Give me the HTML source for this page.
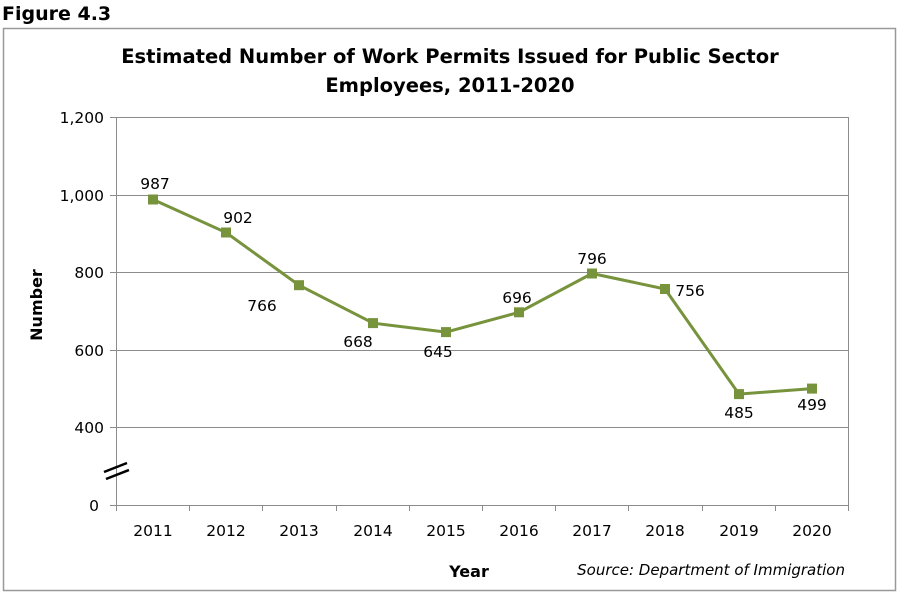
<!DOCTYPE html>
<html><head><meta charset="utf-8"><style>
html,body{margin:0;padding:0;background:#fff;width:900px;height:594px;overflow:hidden}
text{font-family:"DejaVu Sans","Liberation Sans",sans-serif}
</style></head><body>
<svg width="900" height="594" xmlns="http://www.w3.org/2000/svg">
<text x="2" y="20" font-size="19" font-weight="bold" fill="#000">Figure 4.3</text>
<rect x="3.5" y="28.5" width="892" height="562" fill="none" stroke="#999" stroke-width="1.5"/>
<text x="450" y="63" font-size="19.5" font-weight="bold" text-anchor="middle">Estimated Number of  Work Permits Issued for Public Sector</text>
<text x="450" y="92" font-size="19.5" font-weight="bold" text-anchor="middle">Employees, 2011-2020</text>
<g stroke="#8c8c8c" stroke-width="1">
<line x1="110" y1="117.5" x2="848" y2="117.5"/>
<line x1="110" y1="195.5" x2="848" y2="195.5"/>
<line x1="110" y1="272.5" x2="848" y2="272.5"/>
<line x1="110" y1="350.5" x2="848" y2="350.5"/>
<line x1="110" y1="427.5" x2="848" y2="427.5"/>
<line x1="110" y1="505.5" x2="848" y2="505.5"/>
<line x1="116.5" y1="117" x2="116.5" y2="511"/>
<line x1="848.5" y1="117" x2="848.5" y2="511"/>
<line x1="189.5" y1="505" x2="189.5" y2="511"/><line x1="262.5" y1="505" x2="262.5" y2="511"/>
<line x1="336.5" y1="505" x2="336.5" y2="511"/><line x1="409.5" y1="505" x2="409.5" y2="511"/>
<line x1="482.5" y1="505" x2="482.5" y2="511"/><line x1="555.5" y1="505" x2="555.5" y2="511"/>
<line x1="628.5" y1="505" x2="628.5" y2="511"/><line x1="702.5" y1="505" x2="702.5" y2="511"/>
<line x1="775.5" y1="505" x2="775.5" y2="511"/>
</g>
<g stroke="#000" stroke-width="2.5"><line x1="104" y1="472" x2="127" y2="463"/><line x1="106" y1="479" x2="129" y2="470"/></g>
<g font-size="15.5" text-anchor="end" fill="#000">
<text x="104" y="123">1,200</text><text x="104" y="201">1,000</text><text x="104" y="278">800</text>
<text x="104" y="356">600</text><text x="104" y="433">400</text><text x="99" y="511">0</text>
</g>
<g font-size="15.5" text-anchor="middle">
<text x="153" y="536">2011</text><text x="226" y="536">2012</text><text x="299" y="536">2013</text>
<text x="373" y="536">2014</text><text x="446" y="536">2015</text><text x="519" y="536">2016</text>
<text x="592" y="536">2017</text><text x="665" y="536">2018</text><text x="739" y="536">2019</text><text x="812" y="536">2020</text>
</g>
<text x="42" y="305" font-size="16" font-weight="bold" text-anchor="middle" transform="rotate(-90 42 305)">Number</text>
<text x="469" y="577" font-size="16" font-weight="bold" text-anchor="middle">Year</text>
<text x="845" y="575" font-size="15" font-style="italic" text-anchor="end">Source: Department of Immigration</text>
<polyline fill="none" stroke="#77933c" stroke-width="3" points="153,199.5 226,232.5 299,285.2 373,323.1 446,332.1 519,312.3 592,273.5 665,289 739,394.1 812,388.6"/>
<g fill="#77933c">
<rect x="148" y="194.5" width="10" height="10"/><rect x="221" y="227.5" width="10" height="10"/>
<rect x="294" y="280.2" width="10" height="10"/><rect x="368" y="318.1" width="10" height="10"/>
<rect x="441" y="327.1" width="10" height="10"/><rect x="514" y="307.3" width="10" height="10"/>
<rect x="587" y="268.5" width="10" height="10"/><rect x="660" y="284" width="10" height="10"/>
<rect x="734" y="389.1" width="10" height="10"/><rect x="807" y="383.6" width="10" height="10"/>
</g>
<g font-size="15.5" text-anchor="middle">
<text x="155" y="189">987</text><text x="238" y="223">902</text><text x="262" y="311">766</text>
<text x="358" y="347">668</text><text x="438" y="357">645</text><text x="517" y="303">696</text>
<text x="592" y="264">796</text><text x="690" y="296">756</text><text x="739" y="418">485</text><text x="812" y="410">499</text>
</g>
</svg>
</body></html>
